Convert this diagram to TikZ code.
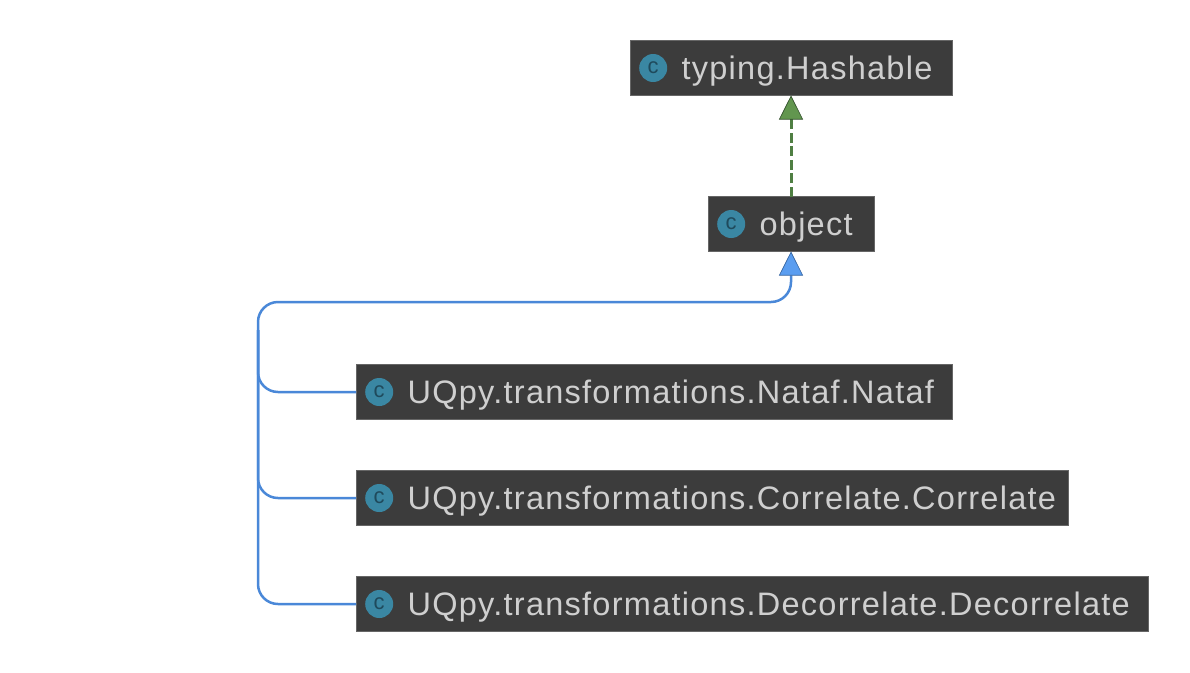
\documentclass[tikz,border=0pt]{standalone}
\usepackage{fontspec}
\setmainfont[LetterSpace=3.9]{Liberation Sans}
\usetikzlibrary{positioning,arrows.meta}
\definecolor{boxfill}{HTML}{3C3C3C}
\definecolor{boxline}{HTML}{666666}
\definecolor{boxtext}{HTML}{CFCFCF}
\definecolor{iconfill}{HTML}{3A87A3}
\definecolor{icontext}{HTML}{1F4A5C}
\definecolor{extline}{HTML}{4A88D8}
\definecolor{extfill}{HTML}{5A9DF0}
\definecolor{extedge}{HTML}{2F5F9C}
\definecolor{implline}{HTML}{4F7F43}
\definecolor{implfill}{HTML}{62964F}
\definecolor{impledge}{HTML}{2C4A26}
\tikzset{classbox/.style={draw=boxline,line width=1pt,fill=boxfill,minimum height=55pt,inner sep=0pt,outer sep=0pt,anchor=north west},
classicon/.style={circle,fill=iconfill,minimum size=28pt,inner sep=0pt,text=icontext,font=\fontsize{22}{22}\selectfont},
classname/.style={text=boxtext,inner sep=0pt,text height=23pt,text depth=7pt,font=\fontsize{32.5}{32.5}\selectfont},
extends/.style={extline,line width=2.5pt,rounded corners=20pt,-{Triangle[length=24pt,width=24pt,fill=extfill,color=extedge,line width=0.6pt]}},
joins/.style={extline,line width=2.5pt,rounded corners=20pt},
implements/.style={implline,line width=3pt,dash pattern=on 10pt off 3.5pt,-{Triangle[length=24pt,width=24pt,fill=implfill,color=impledge,line width=0.6pt]}}}
\begin{document}
\begin{tikzpicture}[x=1pt,y=-1pt]
\useasboundingbox (0,0) rectangle (1190,672);
\coordinate (bus) at (258,302);
\coordinate (busend) at (258,330);
\foreach \cname/\x/\y/\w/\ctext in {hashable/630/40.5/322/typing.Hashable,
	object/708/196.5/166/object,
	nataf/356/364.5/596/UQpy.transformations.Nataf.Nataf,
	correlate/356/470.5/712/UQpy.transformations.Correlate.Correlate,
	decorrelate/356/576.5/792/UQpy.transformations.Decorrelate.Decorrelate}{
	\node [classbox,minimum width=\w pt] (\cname) at (\x,\y) {};
	\node [classicon,right=9pt of \cname.west] (\cname icon) {c};
	\node [classname,right=14pt of \cname icon.east,yshift=-3pt] (\cname text) {\ctext};
}
% inheritance
\draw [implements] (object.north) -- (hashable.south);
\draw [joins] (nataf.west) -- (nataf.west -| bus) -- (busend);
\draw [joins] (correlate.west) -- (correlate.west -| bus) -- (busend);
\draw [extends] (decorrelate.west) -- (decorrelate.west -| bus) -- (bus) -- (bus -| object.south) -- (object.south);
\end{tikzpicture}
\end{document}
